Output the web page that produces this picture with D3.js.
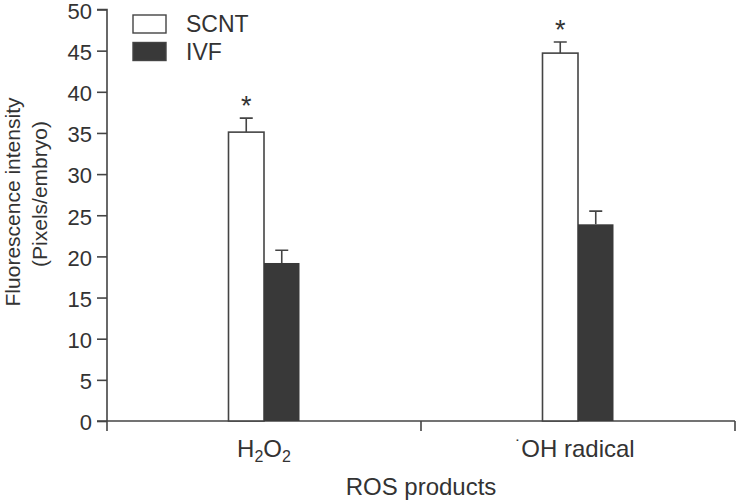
<!DOCTYPE html>
<html>
<head>
<meta charset="utf-8">
<script src="https://cdn.jsdelivr.net/npm/d3@7"></script>
<style>
  body { margin: 0; background: #fff; }
  text { font-family: "Liberation Sans", Arial, sans-serif; fill: #333; }
</style>
</head>
<body>
<svg width="736" height="501"></svg>
<script>
// data
var categories = ["H2O2", "OH radical"];
var groups = ["SCNT", "IVF"];
var scntValues = [35.1, 44.7];
var scntErrors = [1.7, 1.35];
var ivfValues = [19.2, 23.9];
var ivfErrors = [1.55, 1.6];
var significant = [true, true];
var yTicks = [0, 5, 10, 15, 20, 25, 30, 35, 40, 45, 50];

var svg = d3.select("svg");
var ink = "#444";

var x = d3.scaleBand().domain(categories).range([107, 735]);
var y = d3.scaleLinear().domain([0, 50]).range([421, 9.5]);
var sub = d3.scaleBand().domain(groups).range([0, 71]);

// rows for drawing
var rows = [];
categories.forEach(function (c, i) {
    rows.push({ cat: c, grp: "SCNT", v: scntValues[i], e: scntErrors[i], star: significant[i] });
    rows.push({ cat: c, grp: "IVF", v: ivfValues[i], e: ivfErrors[i], star: false });
});
function barX(d) { return x(d.cat) + x.bandwidth() / 2 - 35.5 + sub(d.grp); }
function barMid(d) { return barX(d) + sub.bandwidth() / 2; }

// y axis
var yAxis = d3.axisLeft(y).tickValues(yTicks).tickSize(10).tickPadding(5);
var gy = svg.append("g").attr("transform", "translate(107,0)").call(yAxis);
gy.select(".domain").attr("d", "M-10,9.5H0V421");
gy.selectAll("path, line").attr("stroke", ink).attr("stroke-width", 1.6);
gy.selectAll("text").style("font-size", "22px").attr("fill", "#333").attr("dy", "0.4em");

// x axis: ticks at category boundaries
var gx = svg.append("g").attr("transform", "translate(0,421)");
gx.append("line").attr("x1", 97).attr("x2", 735).attr("y1", 0).attr("y2", 0);
var bounds = [107, x(categories[1]), 735];
gx.selectAll("line.tk").data(bounds).enter().append("line").attr("class", "tk")
    .attr("x1", function (d) { return d; }).attr("x2", function (d) { return d; })
    .attr("y1", 0).attr("y2", 10);
gx.selectAll("line").attr("stroke", ink).attr("stroke-width", 1.6);

// error bars
svg.selectAll("path.err").data(rows).enter().append("path").attr("class", "err")
    .attr("d", function (d) {
        var m = barMid(d), t = y(d.v + d.e);
        return "M" + m + "," + y(d.v) + "V" + t + "M" + (m - 6.5) + "," + t + "H" + (m + 6.5);
    })
    .attr("stroke", ink).attr("stroke-width", 1.6).attr("fill", "none");

// bars
svg.selectAll("rect.bar").data(rows).enter().append("rect").attr("class", "bar")
    .attr("x", barX)
    .attr("y", function (d) { return y(d.v); })
    .attr("width", sub.bandwidth())
    .attr("height", function (d) { return y(0) - y(d.v); })
    .attr("fill", function (d) { return d.grp == "SCNT" ? "#fff" : "#393939"; })
    .attr("stroke", function (d) { return d.grp == "SCNT" ? ink : "none"; })
    .attr("stroke-width", 1.6);

// asterisks
svg.selectAll("text.star").data(rows.filter(function (d) { return d.star; })).enter()
    .append("text").attr("class", "star")
    .attr("x", barMid)
    .attr("y", function (d) { return y(d.v + d.e) - 3; })
    .attr("text-anchor", "middle")
    .style("font-size", "27px")
    .text("*");

// category labels
var lab = svg.append("g").style("font-size", "24px");
var t1 = lab.append("text").attr("x", x(categories[0]) + x.bandwidth() / 2).attr("y", 457).attr("text-anchor", "middle");
t1.append("tspan").text("H");
t1.append("tspan").attr("dy", 5).style("font-size", "16px").text("2");
t1.append("tspan").attr("dy", -5).text("O");
t1.append("tspan").attr("dy", 5).style("font-size", "16px").text("2");
var t2 = lab.append("text").attr("x", x(categories[1]) + x.bandwidth() / 2 - 3).attr("y", 457).attr("text-anchor", "middle");
t2.append("tspan").attr("dy", -4).style("font-size", "18px").text("\u02D9");
t2.append("tspan").attr("dy", 4).text("OH radical");

// axis titles
svg.append("text").attr("x", 421).attr("y", 495).attr("text-anchor", "middle")
    .style("font-size", "24px").text("ROS products");
svg.append("text").attr("transform", "translate(20,202) rotate(-90)").attr("text-anchor", "middle")
    .style("font-size", "21px").text("Fluorescence intensity");
svg.append("text").attr("transform", "translate(47,194) rotate(-90)").attr("text-anchor", "middle")
    .style("font-size", "21px").text("(Pixels/embryo)");

// legend
var leg = svg.selectAll("g.leg").data(groups).enter().append("g").attr("class", "leg")
    .attr("transform", function (d, i) { return "translate(133," + (15 + i * 27.5) + ")"; });
leg.append("rect").attr("width", 33).attr("height", 18)
    .attr("fill", function (d) { return d == "SCNT" ? "#fff" : "#393939"; })
    .attr("stroke", ink).attr("stroke-width", 1.4);
leg.append("text").attr("x", 53).attr("y", 17).style("font-size", "23px").text(function (d) { return d; });
</script>
</body>
</html>
